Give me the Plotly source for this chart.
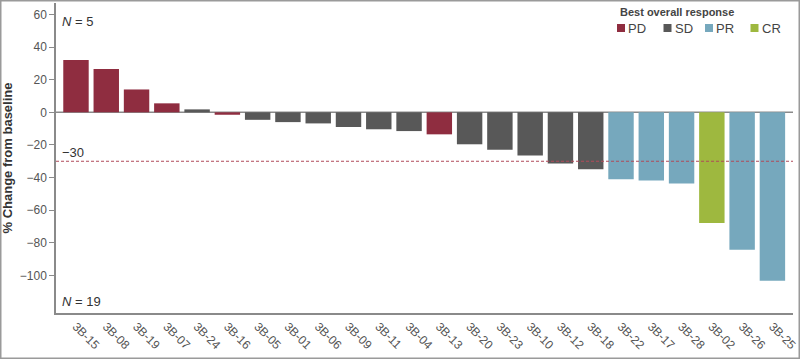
import plotly.graph_objects as go

patients = ["3B-15", "3B-08", "3B-19", "3B-07", "3B-24", "3B-16", "3B-05", "3B-01",
            "3B-06", "3B-09", "3B-11", "3B-04", "3B-13", "3B-20", "3B-23", "3B-10",
            "3B-12", "3B-18", "3B-22", "3B-17", "3B-28", "3B-02", "3B-26", "3B-25"]
pct_change = [32, 26.5, 14, 5.5, 1.8, -1.5, -4.6, -6, -6.8, -9, -10.4, -11.5,
              -13.5, -19.6, -23, -26.5, -31.4, -34.9, -41, -41.8, -43.7, -67.9, -84.2, -103.2]
response = ["PD", "PD", "PD", "PD", "SD", "PD", "SD", "SD", "SD", "SD", "SD", "SD",
            "PD", "SD", "SD", "SD", "SD", "SD", "PR", "PR", "PR", "CR", "PR", "PR"]
response_levels = ["PD", "SD", "PR", "CR"]
y_ticks = [-100, -80, -60, -40, -20, 0, 20, 40, 60]
threshold = -30
n_top = 5
n_bottom = 19

colors = {"PD": "#8f2d40", "SD": "#585858", "PR": "#76a8bd", "CR": "#9eb83f"}
FONT = "Liberation Sans, Arial, sans-serif"

W, H = 800, 359
L, R, T, B = 56, 7, 3, 46
PW, PH = W - L - R, H - T - B


def px(x):
    return (x - L) / PW


def py(y):
    return 1 - (y - T) / PH


fig = go.Figure()
fig.add_trace(go.Bar(
    x=patients, y=pct_change,
    marker=dict(color=[colors[r] for r in response], line=dict(width=0)),
    width=0.84, showlegend=False,
))

shapes = []
annotations = []

# threshold line
shapes.append(dict(type="line", xref="paper", yref="y", x0=0, x1=1, y0=threshold, y1=threshold,
                   line=dict(color="#b04a5a", width=1, dash="3px,2px"), layer="above"))
# zero line
shapes.append(dict(type="line", xref="paper", yref="y", x0=0, x1=1, y0=0, y1=0,
                   line=dict(color="#8a8a8a", width=1.5), layer="below"))
# outer frame
shapes.append(dict(type="rect", xref="paper", yref="paper",
                   x0=px(0.75), x1=px(799.25), y0=py(358.25), y1=py(0.75),
                   line=dict(color="#9a9a9a", width=1.5), fillcolor="rgba(0,0,0,0)"))

annotations.append(dict(xref="paper", yref="y", x=px(60), y=threshold, xanchor="left", yanchor="bottom",
                        text="\u221230", showarrow=False, font=dict(family=FONT, size=13, color="#333"),
                        yshift=-1))
annotations.append(dict(xref="paper", yref="paper", x=px(60), y=py(22), xanchor="left", yanchor="middle",
                        text=f"<i>N</i> = {n_top}", showarrow=False, font=dict(family=FONT, size=13, color="#333")))
annotations.append(dict(xref="paper", yref="paper", x=px(60), y=py(301), xanchor="left", yanchor="middle",
                        text=f"<i>N</i> = {n_bottom}", showarrow=False, font=dict(family=FONT, size=13, color="#333")))

# manual legend
annotations.append(dict(xref="paper", yref="paper", x=px(677), y=py(12), xanchor="center", yanchor="middle",
                        text="<b>Best overall response</b>", showarrow=False,
                        font=dict(family=FONT, size=11, color="#444")))
leg_x = [621, 667.5, 709, 754.5]
for lvl, cx in zip(response_levels, leg_x):
    shapes.append(dict(type="rect", xref="paper", yref="paper",
                       x0=px(cx - 4), x1=px(cx + 4), y0=py(32), y1=py(24),
                       fillcolor=colors[lvl], line=dict(width=0)))
    annotations.append(dict(xref="paper", yref="paper", x=px(cx + 5), y=py(28), xanchor="left",
                            yanchor="middle", text=lvl, showarrow=False,
                            font=dict(family=FONT, size=13, color="#444")))

fig.update_layout(
    width=W, height=H,
    margin=dict(l=L, r=R, t=T, b=B, autoexpand=False),
    paper_bgcolor="white", plot_bgcolor="white",
    shapes=shapes, annotations=annotations,
    showlegend=False,
    xaxis=dict(
        type="category", range=[-0.66, 23.68], automargin=False,
        showline=True, linecolor="#8a8a8a", linewidth=1.5,
        ticks="", showgrid=False, zeroline=False,
        tickangle=45, tickfont=dict(family=FONT, size=12, color="#555"),
    ),
    yaxis=dict(
        range=[-123, 67], tickvals=y_ticks, automargin=False,
        showline=True, linecolor="#8a8a8a", linewidth=1.5,
        ticks="outside", ticklen=5, tickcolor="#8a8a8a", tickwidth=1,
        showgrid=False, zeroline=False,
        tickfont=dict(family=FONT, size=12, color="#555"),
        title=dict(text="<b>% Change from baseline</b>", font=dict(family=FONT, size=13, color="#333")),
    ),
)

fig.write_html("out.html", config={"displayModeBar": False},
               post_script="document.body.style.margin='0';document.body.style.overflow='hidden';")
